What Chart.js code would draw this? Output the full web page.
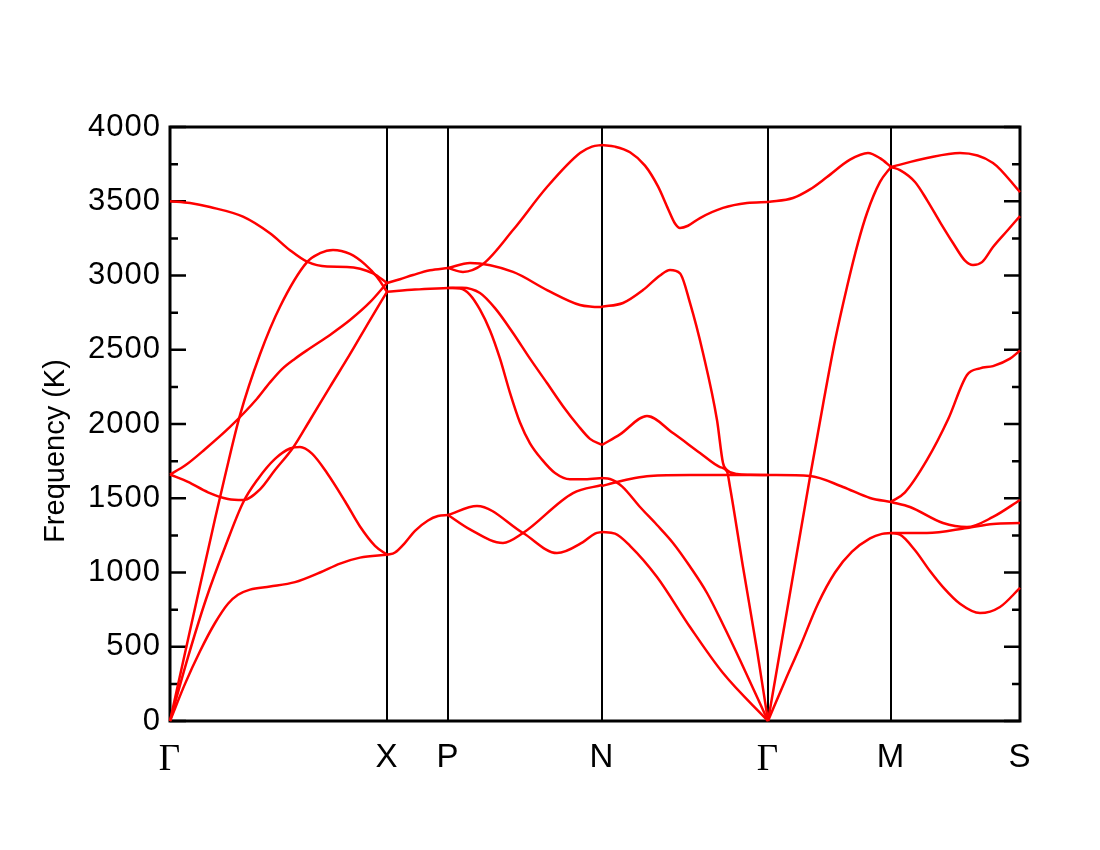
<!DOCTYPE html>
<html>
<head>
<meta charset="utf-8">
<script src="https://cdn.jsdelivr.net/npm/chart.js@4.4.0/dist/chart.umd.min.js"></script>
<style>
  body { margin: 0; background: #fff; }
  canvas { display: block; }
</style>
</head>
<body>
<canvas id="bandas" width="1100" height="850"></canvas>
<script>
// high symmetry points along the k path
const kLabels = ["Γ", "X", "P", "N", "Γ", "M", "S"];
const kPath = [0, 217, 278, 432, 598, 721, 850];
const freqTicks = [0, 500, 1000, 1500, 2000, 2500, 3000, 3500, 4000];

// phonon branches, [k, frequency in K], one list per path segment
const segGX = [
  [[0,0],[15,250],[30,470],[45,660],[58,790],[68,850],[80,885],[100,905],[125,935],[150,1000],[170,1060],[190,1100],[217,1120]],
  [[0,0],[18,430],[36,820],[55,1170],[73,1470],[88,1630],[105,1765],[120,1835],[130,1845],[142,1800],[157,1670],[175,1480],[190,1310],[205,1180],[217,1120]],
  [[0,0],[20,610],[35,1060],[45,1360],[55,1650],[70,2060],[90,2470],[110,2790],[137,3090],[150,3150],[163,3172],[180,3145],[195,3075],[207,2990],[217,2890]],
  [[0,1660],[18,1610],[38,1540],[58,1495],[73,1488],[90,1560],[105,1690],[123,1840],[140,2027],[160,2250],[180,2470],[200,2700],[217,2890]],
  [[0,1660],[15,1720],[35,1830],[60,1980],[87,2170],[100,2280],[112,2370],[125,2440],[140,2510],[160,2600],[180,2700],[200,2820],[217,2950]],
  [[0,3500],[20,3488],[40,3461],[73,3396],[100,3284],[120,3170],[137,3093],[157,3060],[177,3058],[203,3015],[217,2950]]
];
const segXP = [
  [[217,2950],[230,2975],[243,3003],[260,3035],[278,3050]],
  [[217,2890],[245,2905],[278,2916]],
  [[217,1118],[225,1135],[235,1200],[245,1280],[258,1350],[268,1380],[278,1387]]
];
const segPN = [
  [[278,3050],[293,3024],[313,3077],[343,3306],[377,3596],[410,3825],[422,3868],[432,3879]],
  [[278,3050],[300,3084],[343,3024],[377,2902],[410,2801],[422,2790],[432,2788]],
  [[278,2916],[290,2912],[300,2870],[310,2770],[320,2630],[330,2440],[340,2210],[350,2010],[360,1870],[372,1760],[385,1670],[400,1628],[415,1628],[432,1636]],
  [[278,2916],[292,2918],[310,2882],[325,2780],[343,2613],[360,2440],[377,2276],[393,2120],[408,1990],[420,1900],[432,1859]],
  [[278,1387],[307,1448],[353,1266],[387,1131],[413,1205],[425,1262],[432,1273]],
  [[278,1387],[300,1290],[333,1199],[353,1266],[403,1535],[432,1589]]
];
const segNG = [
  [[432,3879],[445,3868],[460,3830],[475,3740],[488,3600],[498,3450],[505,3350],[510,3320],[518,3335],[530,3387],[553,3455],[577,3488],[598,3495]],
  [[432,2790],[453,2815],[473,2902],[490,3000],[500,3037],[510,3015],[520,2815],[533,2478],[547,2027],[553,1737],[557,1690],[567,1663],[580,1658],[598,1657]],
  [[432,1859],[450,1930],[477,2054],[503,1939],[530,1805],[550,1710],[557,1680],[560,1576],[573,1037],[587,478],[598,0]],
  [[432,1636],[440,1630],[452,1580],[470,1441],[487,1320],[503,1199],[520,1040],[537,862],[553,650],[570,411],[598,0]],
  [[432,1582],[447,1610],[465,1636],[480,1650],[520,1657],[598,1657]],
  [[432,1273],[445,1262],[460,1180],[487,970],[520,633],[553,323],[598,0]]
];
const segGM = [
  [[598,3495],[623,3522],[640,3580],[657,3663],[680,3780],[698,3825],[710,3790],[721,3731]],
  [[598,0],[620,860],[640,1643],[653,2130],[665,2560],[677,2923],[688,3220],[697,3421],[710,3630],[721,3731]],
  [[598,1657],[640,1650],[673,1576],[700,1502],[721,1475]],
  [[598,0],[615,270],[630,500],[648,790],[665,1000],[682,1140],[700,1230],[712,1260],[721,1266]]
];
const segMS = [
  [[721,3731],[757,3791],[790,3825],[823,3758],[850,3562]],
  [[721,3731],[730,3710],[745,3630],[757,3508],[770,3360],[783,3219],[795,3100],[803,3071],[812,3090],[823,3192],[837,3300],[850,3400]],
  [[721,1475],[735,1540],[757,1758],[778,2030],[797,2330],[810,2375],[823,2390],[840,2440],[850,2495]],
  [[721,1475],[740,1441],[773,1333],[797,1306],[823,1374],[850,1488]],
  [[721,1266],[757,1266],[797,1300],[823,1327],[850,1333]],
  [[721,1266],[730,1255],[745,1150],[760,1010],[773,902],[790,790],[810,727],[830,768],[850,896]]
];

const segmentos = [segGX, segXP, segPN, segNG, segGM, segMS];

let datasets = [];
segmentos.forEach(seg => {
  seg.forEach(curva => {
    datasets.push({
      data: curva.map(p => ({x: p[0], y: p[1]})),
      showLine: true,
      borderColor: "#ff0000",
      borderWidth: 2.5,
      pointRadius: 0,
      cubicInterpolationMode: "monotone",
      clip: false
    });
  });
});

// frame, inward ticks and the y title
const marco = {
  id: "marco",
  beforeDraw(chart) {
    chart.ctx.letterSpacing = "1px";
  },
  beforeDatasetsDraw(chart) {
    const ctx = chart.ctx;
    const a = chart.chartArea;
    const y = chart.scales.y;
    ctx.letterSpacing = "0px";
    ctx.save();
    ctx.strokeStyle = "#000";
    ctx.lineWidth = 2.5;
    for (let v = 0; v <= 4000; v += 250) {
      const py = y.getPixelForValue(v);
      const len = v % 500 === 0 ? 16 : 8;
      ctx.beginPath();
      ctx.moveTo(a.left, py); ctx.lineTo(a.left + len, py);
      ctx.moveTo(a.right, py); ctx.lineTo(a.right - len, py);
      ctx.stroke();
    }
    ctx.lineWidth = 3;
    ctx.strokeRect(a.left, a.top, a.right - a.left, a.bottom - a.top);
    ctx.restore();
  },
  afterDraw(chart) {
    const ctx = chart.ctx;
    ctx.save();
    ctx.translate(56, 451);
    ctx.rotate(-Math.PI / 2);
    ctx.font = "29px 'Liberation Sans'";
    ctx.fillStyle = "#000";
    ctx.textAlign = "center";
    ctx.textBaseline = "middle";
    ctx.fillText("Frequency (K)", 0, 0);
    ctx.restore();
  }
};

let grafica = document.getElementById("bandas").getContext("2d");

var chart = new Chart(grafica, {
  type: "scatter",
  data: { datasets: datasets },
  options: {
    responsive: false,
    animation: false,
    devicePixelRatio: 1,
    layout: { padding: { top: 127, right: 80, left: 0, bottom: 0 } },
    plugins: { legend: { display: false }, tooltip: { enabled: false } },
    scales: {
      x: {
        type: "linear",
        min: 0,
        max: 850,
        afterBuildTicks: axis => { axis.ticks = kPath.map(v => ({value: v})); },
        afterFit: scale => { scale.height = 129; },
        grid: { color: "#000", lineWidth: 2, drawTicks: false },
        border: { display: false },
        ticks: {
          autoSkip: false,
          maxRotation: 0,
          minRotation: 0,
          padding: 17,
          color: "#000",
          font: ctx => kLabels[ctx.index] === "Γ"
            ? { family: "'Liberation Serif'", size: 37 }
            : { family: "'Liberation Sans'", size: 33 },
          callback: (value, index) => kLabels[index]
        }
      },
      y: {
        min: 0,
        max: 4000,
        afterBuildTicks: axis => { axis.ticks = freqTicks.map(v => ({value: v})); },
        afterFit: scale => { scale.width = 170; },
        grid: { display: false, drawTicks: false },
        border: { display: false },
        ticks: {
          padding: 9,
          color: "#000",
          font: { family: "'Liberation Sans'", size: 31 },
          callback: value => String(value)
        }
      }
    }
  },
  plugins: [marco]
});
</script>
</body>
</html>
